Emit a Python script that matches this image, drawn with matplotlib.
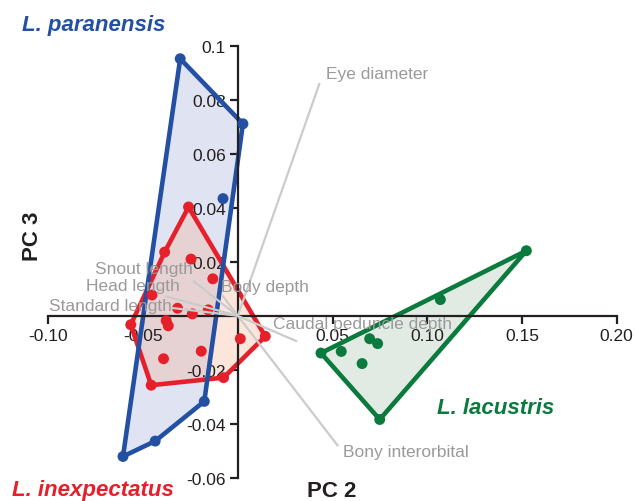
import numpy as np
import matplotlib
matplotlib.use("Agg")
import matplotlib.pyplot as plt
from matplotlib.patches import Polygon

plt.rcParams['font.family'] = ['Liberation Sans', 'DejaVu Sans']
plt.rcParams['axes.unicode_minus'] = False

# ---- data (PC2, PC3 scores) ----
paranensis_x = [-0.0304, 0.0027, -0.0078, -0.0177, -0.0436, -0.0606]
paranensis_y = [0.0952, 0.0711, 0.0434, -0.0317, -0.0464, -0.0521]

inexpectatus_x = [-0.0260, -0.0386, -0.0247, -0.0132, -0.0453, -0.0318, -0.0240, -0.0156,
                  -0.0378, -0.0367, -0.0565, 0.0145, 0.0013, -0.0392, -0.0193, -0.0457, -0.0075]
inexpectatus_y = [0.0403, 0.0236, 0.0210, 0.0137, 0.0077, 0.0028, 0.0007, 0.0022,
                  -0.0018, -0.0037, -0.0033, -0.0076, -0.0085, -0.0159, -0.0131, -0.0257, -0.0229]

lacustris_x = [0.1523, 0.1069, 0.0439, 0.0546, 0.0696, 0.0738, 0.0656, 0.0749]
lacustris_y = [0.0241, 0.0060, -0.0138, -0.0132, -0.0085, -0.0103, -0.0177, -0.0384]

# loadings (vector tips) and label anchor positions
load_names = ["Eye diameter", "Bony interorbital", "Caudal peduncle depth", "Body depth",
              "Head length", "Snout length", "Standard length"]
load_x = [0.0432, 0.0530, 0.0313, -0.0083, -0.0384, -0.0236, -0.0347]
load_y = [0.0862, -0.0483, -0.0095, 0.0077, 0.0073, 0.0129, 0.0029]
label_x = [0.0464, 0.0554, 0.0187, -0.0090, -0.0305, -0.0235, -0.0349]
label_y = [0.0896, -0.0503, -0.0030, 0.0109, 0.0114, 0.0176, 0.0037]
label_ha = ["left", "left", "left", "left", "right", "right", "right"]

xticks = [-0.10, -0.05, 0.05, 0.10, 0.15, 0.20]
xticklabels = ["-0.10", "-0.05", "0.05", "0.10", "0.15", "0.20"]
yticks = [0.1, 0.08, 0.06, 0.04, 0.02, -0.02, -0.04, -0.06]
yticklabels = ["0.1", "0.08", "0.06", "0.04", "0.02", "-0.02", "-0.04", "-0.06"]


def hull(xs, ys):
    pts = sorted(set(zip(xs, ys)))
    def cross(o, a, b):
        return (a[0]-o[0])*(b[1]-o[1]) - (a[1]-o[1])*(b[0]-o[0])
    lower, upper = [], []
    for p in pts:
        while len(lower) >= 2 and cross(lower[-2], lower[-1], p) <= 0:
            lower.pop()
        lower.append(p)
    for p in reversed(pts):
        while len(upper) >= 2 and cross(upper[-2], upper[-1], p) <= 0:
            upper.pop()
        upper.append(p)
    return np.array(lower[:-1] + upper[:-1])


BLUE = '#2350a3'
RED = '#e5202a'
GREEN = '#0a7a3d'
GRAY_LINE = '#cbcbcb'
GRAY_TEXT = '#9a9a9a'

fig = plt.figure(figsize=(6.35, 5.02), dpi=100)
ax = fig.add_axes([0, 0, 1, 1])
ax.set_xlim(-0.12551, 0.20964)
ax.set_ylim(-0.06859, 0.11733)

groups = [
    (paranensis_x, paranensis_y, BLUE, '#dfe3f2', 1.0),
    (inexpectatus_x, inexpectatus_y, RED, '#f7b59a', 0.35),
    (lacustris_x, lacustris_y, GREEN, '#e1ebe3', 1.0),
]
hulls = [hull(gx, gy) for gx, gy, *_ in groups]

for h, (gx, gy, ec, fc, a) in zip(hulls, groups):
    ax.add_patch(Polygon(h, closed=True, facecolor=fc, edgecolor='none', alpha=a, zorder=1))

edge_order = [1, 0, 2]
for i in edge_order:
    ax.add_patch(Polygon(hulls[i], closed=True, fill=False, edgecolor=groups[i][2],
                         lw=3.3, joinstyle='miter', zorder=3 + edge_order.index(i) * 0.1))

for gx, gy, ec, fc, a in groups:
    ax.scatter(gx, gy, s=62, color=ec, edgecolors='none', zorder=5)

for lx, ly in zip(load_x, load_y):
    ax.plot([0, lx], [0, ly], color=GRAY_LINE, lw=1.6, zorder=6, solid_capstyle='butt')

for name, tx, ty, ha in zip(load_names, label_x, label_y, label_ha):
    ax.text(tx, ty, name, color=GRAY_TEXT, fontsize=12.5, ha=ha, va='center', zorder=8)

# axes through the origin
for s in ['top', 'right']:
    ax.spines[s].set_visible(False)
ax.spines['left'].set_position(('data', 0))
ax.spines['bottom'].set_position(('data', 0))
ax.spines['left'].set_bounds(-0.06, 0.1)
ax.spines['bottom'].set_bounds(-0.10, 0.20)
for s in ['left', 'bottom']:
    ax.spines[s].set_linewidth(1.6)
    ax.spines[s].set_color('#231f20')
    ax.spines[s].set_zorder(4)
ax.set_xticks(xticks)
ax.set_xticklabels(xticklabels)
ax.set_yticks(yticks)
ax.set_yticklabels(yticklabels)
ax.tick_params(axis='both', direction='out', length=5.5, width=1.6, color='#231f20',
               labelsize=12.5, labelcolor='#231f20', pad=3)
ax.patch.set_visible(False)

# axis titles
fig.text(332 / 635, 1 - 491.5 / 502, "PC 2", fontsize=16, fontweight='bold',
         ha='center', va='center', color='#231f20')
fig.text(33 / 635, 1 - 236 / 502, "PC 3", fontsize=16, fontweight='bold',
         rotation=90, ha='center', va='center', color='#231f20')

# species labels
fig.text(22 / 635, 1 - 26 / 502, "L. paranensis", fontsize=16, fontweight='bold',
         fontstyle='italic', color=BLUE, ha='left', va='center')
fig.text(12 / 635, 1 - 491 / 502, "L. inexpectatus", fontsize=16, fontweight='bold',
         fontstyle='italic', color=RED, ha='left', va='center')
fig.text(437 / 635, 1 - 408 / 502, "L. lacustris", fontsize=16, fontweight='bold',
         fontstyle='italic', color=GREEN, ha='left', va='center')

fig.savefig("out.png", dpi=100)
